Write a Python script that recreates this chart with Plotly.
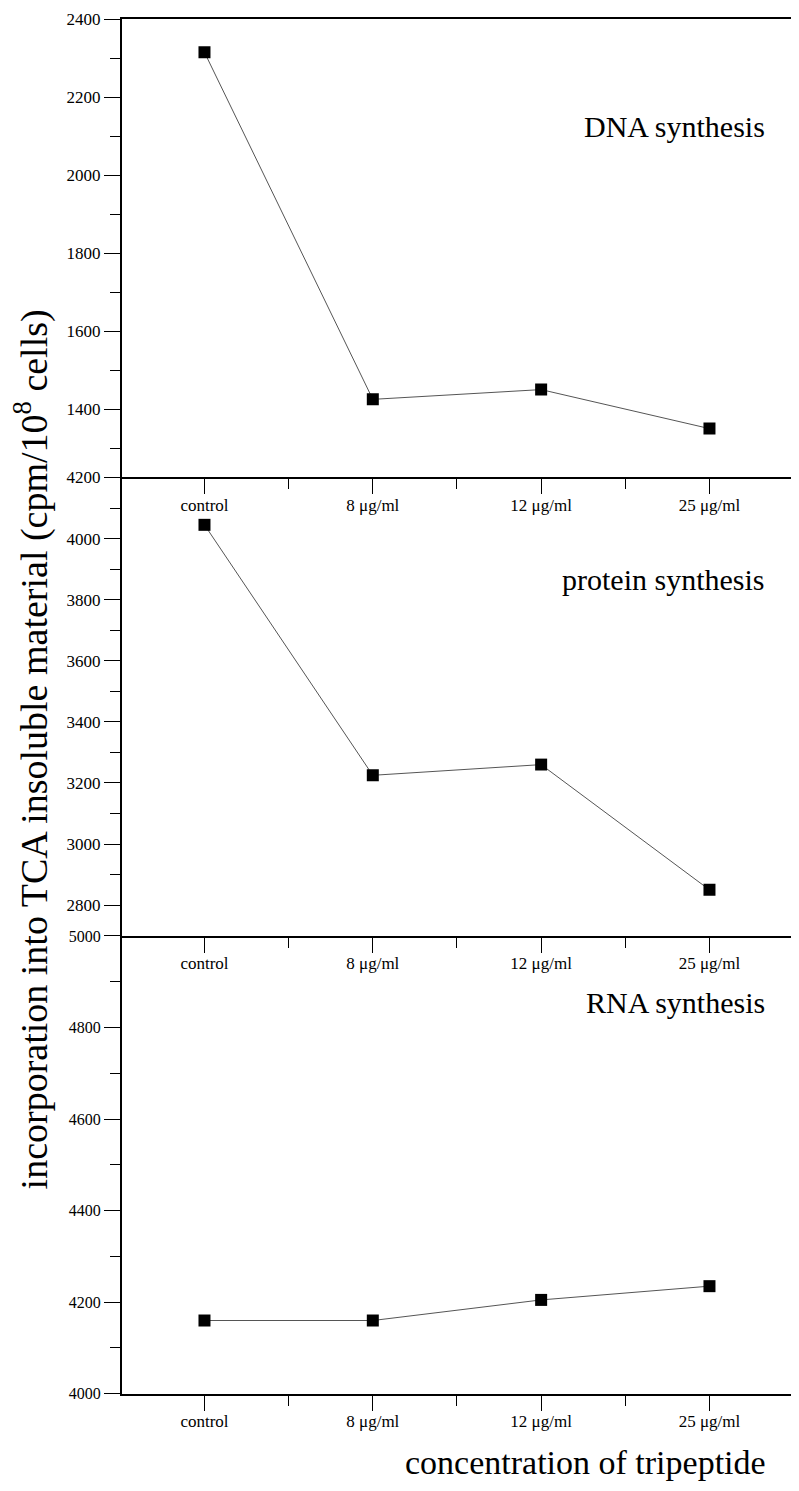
import plotly.graph_objects as go

# ---- data ----
categories = ["control", "8 μg/ml", "12 μg/ml", "25 μg/ml"]
dna_synthesis = [2315, 1425, 1450, 1350]
protein_synthesis = [4045, 3225, 3260, 2850]
rna_synthesis = [4160, 4160, 4205, 4235]
panel_names = ["DNA synthesis", "protein synthesis", "RNA synthesis"]
y_title = "incorporation into TCA insoluble material (cpm/10<sup>8</sup> cells)"
x_title = "concentration of tripeptide"

series = [dna_synthesis, protein_synthesis, rna_synthesis]
y_ranges = [[1225, 2400.5], [2700, 4200.5], [3999.5, 5000.5]]

FONT = "Liberation Serif, Times New Roman, Times, serif"
BODY = 8  # default page margin around the plot div
W, H = 799 - BODY, 1491 - BODY
ML, MR, MT, MB = 122 - BODY, 2, 16 - BODY, 97
pw, ph = W - ML - MR, H - MT - MB

xpos = list(range(len(categories)))
minor_x = [i + 0.5 for i in xpos[:-1]]

fig = go.Figure()
domains = [[2 / 3, 1.0], [1 / 3, 2 / 3], [0.0, 1 / 3]]

for i, vals in enumerate(series):
    sfx = "" if i == 0 else str(i + 1)
    fig.add_trace(go.Scatter(
        x=xpos, y=vals, mode="lines+markers",
        xaxis="x" + sfx, yaxis="y" + sfx,
        line=dict(color="#555555", width=1),
        marker=dict(symbol="square", size=12, color="black"),
        showlegend=False, hoverinfo="skip",
    ))
    fig.layout["xaxis" + sfx] = dict(
        domain=[0, 1], anchor="y" + sfx, range=[-0.49, 3.52],
        tickmode="array", tickvals=xpos, ticktext=categories,
        ticks="outside", ticklen=15, tickwidth=1, tickcolor="black",
        showline=True, linewidth=2, linecolor="black",
        mirror=(i == 0), showgrid=False, zeroline=False,
        ticklabelstandoff=-4,
        tickfont=dict(family=FONT, size=17, color="black"),
        minor=dict(tickmode="array", tickvals=minor_x, ticks="outside",
                   ticklen=10, tickwidth=1, tickcolor="black", showgrid=False),
    )
    fig.layout["yaxis" + sfx] = dict(
        domain=domains[i], anchor="x" + sfx, range=y_ranges[i],
        tickmode="linear", tick0=0, dtick=200,
        ticks="outside", ticklen=16, tickwidth=1, tickcolor="black",
        showline=True, linewidth=2, linecolor="black",
        showgrid=False, zeroline=False,
        tickfont=dict(family=FONT, size=17 if i < 2 else 16, color="black"),
        minor=dict(tick0=0, dtick=100, ticks="outside", ticklen=10,
                   tickwidth=1, tickcolor="black", showgrid=False),
    )

def px_x(p):
    return (p - BODY - ML) / pw

def px_y(p):
    return (H - MB - (p - BODY)) / ph

annotations = []
for name, ycen in zip(panel_names, [124, 578, 1002]):
    annotations.append(dict(
        text=name, xref="paper", yref="paper", x=px_x(767), y=px_y(ycen),
        xanchor="right", yanchor="middle", showarrow=False,
        font=dict(family=FONT, size=30, color="black"),
    ))
annotations.append(dict(
    text=y_title, xref="paper", yref="paper", x=px_x(31), y=px_y(748),
    xanchor="center", yanchor="middle", textangle=-90, showarrow=False,
    font=dict(family=FONT, size=38, color="black"),
))
annotations.append(dict(
    text=x_title, xref="paper", yref="paper", x=px_x(585), y=px_y(1463),
    xanchor="center", yanchor="middle", showarrow=False,
    font=dict(family=FONT, size=34, color="black"),
))

fig.update_layout(
    width=W, height=H,
    margin=dict(l=ML, r=MR, t=MT, b=MB, pad=0),
    paper_bgcolor="white", plot_bgcolor="white",
    showlegend=False, annotations=annotations,
)

fig.write_html("out.html")
